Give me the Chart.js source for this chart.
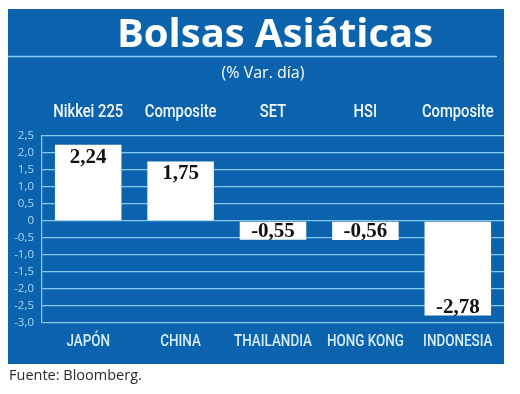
<!DOCTYPE html>
<html>
<head>
<meta charset="utf-8">
<script src="https://cdn.jsdelivr.net/npm/chart.js@4/dist/chart.umd.min.js"></script>
<style>
  html, body { margin: 0; padding: 0; background: #fff; }
  #chart { display: block; }
</style>
</head>
<body>
<canvas id="chart" width="520" height="394"></canvas>
<script>
const indexNames = ['Nikkei 225', 'Composite', 'SET', 'HSI', 'Composite'];
const countries = ['JAPÓN', 'CHINA', 'THAILANDIA', 'HONG KONG', 'INDONESIA'];
const dailyChange = [2.24, 1.75, -0.55, -0.56, -2.78];
const yMin = -3;
const yMax = 2.5;
const yStep = 0.5;

const BLUE = '#0b63ad';
const GRID = '#86cbee';

function formatTick(value) {
  if (value === 0) return '0';
  return value.toFixed(1).replace('.', ',');
}

// draw text squeezed horizontally, the original uses a condensed face
function condensedText(ctx, text, x, y, squeeze) {
  ctx.save();
  ctx.translate(x, y);
  ctx.scale(squeeze, 1);
  ctx.fillText(text, 0, 0);
  ctx.restore();
}

const panelPlugin = {
  id: 'panel',
  beforeDraw(chart) {
    const ctx = chart.ctx;
    ctx.save();
    ctx.fillStyle = '#fff';
    ctx.fillRect(0, 0, chart.width, chart.height);
    ctx.fillStyle = BLUE;
    ctx.fillRect(8, 9, 496, 355);
    ctx.strokeStyle = GRID;
    ctx.lineWidth = 1.3;
    ctx.beginPath();
    ctx.moveTo(8, 56.5);
    ctx.lineTo(497, 56.5);
    ctx.stroke();

    ctx.fillStyle = '#fff';
    ctx.textAlign = 'center';
    ctx.textBaseline = 'alphabetic';
    ctx.font = "bold 39px 'Open Sans', sans-serif";
    const w = ctx.measureText('Bolsas Asiáticas').width;
    condensedText(ctx, 'Bolsas Asiáticas', 275, 47, 316 / w);
    ctx.font = "16px 'Open Sans', sans-serif";
    ctx.fillText('(% Var. día)', 263, 78);

    ctx.fillStyle = '#2b2b2b';
    ctx.textAlign = 'left';
    ctx.font = "14.5px 'Open Sans', sans-serif";
    ctx.fillText('Fuente: Bloomberg.', 9, 380);
    ctx.restore();
  }
};

const categoryLabels = {
  id: 'categoryLabels',
  afterDraw(chart) {
    const ctx = chart.ctx;
    const bottom = chart.scales.x;
    const top = chart.scales.xTop;
    ctx.save();
    ctx.textAlign = 'center';
    ctx.textBaseline = 'alphabetic';
    ctx.font = "500 18px Roboto, sans-serif";
    ctx.fillStyle = '#f4f9fd';
    indexNames.forEach((name, i) => {
      condensedText(ctx, name, top.getPixelForTick(i), 117, 0.82);
    });
    ctx.font = "500 17px Roboto, sans-serif";
    ctx.fillStyle = '#d8edfa';
    countries.forEach((name, i) => {
      condensedText(ctx, name, bottom.getPixelForTick(i), 346, 0.79);
    });
    ctx.restore();
  }
};

const valueLabels = {
  id: 'valueLabels',
  afterDatasetsDraw(chart) {
    const ctx = chart.ctx;
    const meta = chart.getDatasetMeta(0);
    ctx.save();
    ctx.fillStyle = '#111';
    ctx.textAlign = 'center';
    ctx.font = "bold 21px 'Liberation Serif', serif";
    meta.data.forEach((bar, i) => {
      const v = dailyChange[i];
      const text = v.toFixed(2).replace('.', ',');
      if (v >= 0) {
        ctx.textBaseline = 'top';
        ctx.fillText(text, bar.x, bar.y + 2);
      } else {
        ctx.textBaseline = 'alphabetic';
        ctx.fillText(text, bar.x, bar.y - 3);
      }
    });
    ctx.restore();
  }
};

new Chart(document.getElementById('chart'), {
  type: 'bar',
  data: {
    labels: countries,
    datasets: [{
      data: dailyChange,
      backgroundColor: '#ffffff',
      borderWidth: 0,
      barPercentage: 0.72,
      categoryPercentage: 1
    }]
  },
  options: {
    responsive: false,
    animation: false,
    devicePixelRatio: 1,
    layout: { padding: { left: 8, right: 16, top: 96, bottom: 41 } },
    plugins: {
      legend: { display: false },
      tooltip: { enabled: false }
    },
    scales: {
      x: {
        position: 'bottom',
        grid: { display: false, drawTicks: false },
        border: { display: false },
        ticks: { display: false, autoSkip: false },
        afterFit(scale) { scale.height = 30; }
      },
      xTop: {
        type: 'category',
        position: 'top',
        labels: indexNames,
        offset: true,
        grid: { display: false, drawTicks: false },
        border: { display: false },
        ticks: { display: false, autoSkip: false },
        afterFit(scale) { scale.height = 40; }
      },
      y: {
        min: yMin,
        max: yMax,
        grid: { color: GRID, lineWidth: 1.3, drawTicks: false },
        border: { display: true, color: GRID, width: 1.3 },
        ticks: {
          stepSize: yStep,
          padding: 8,
          color: '#a6d7f4',
          font: { family: "'Open Sans', sans-serif", size: 11.5 },
          callback: (value) => formatTick(value)
        },
        afterFit(scale) { scale.width = 34; }
      }
    }
  },
  plugins: [panelPlugin, categoryLabels, valueLabels]
});
</script>
</body>
</html>
